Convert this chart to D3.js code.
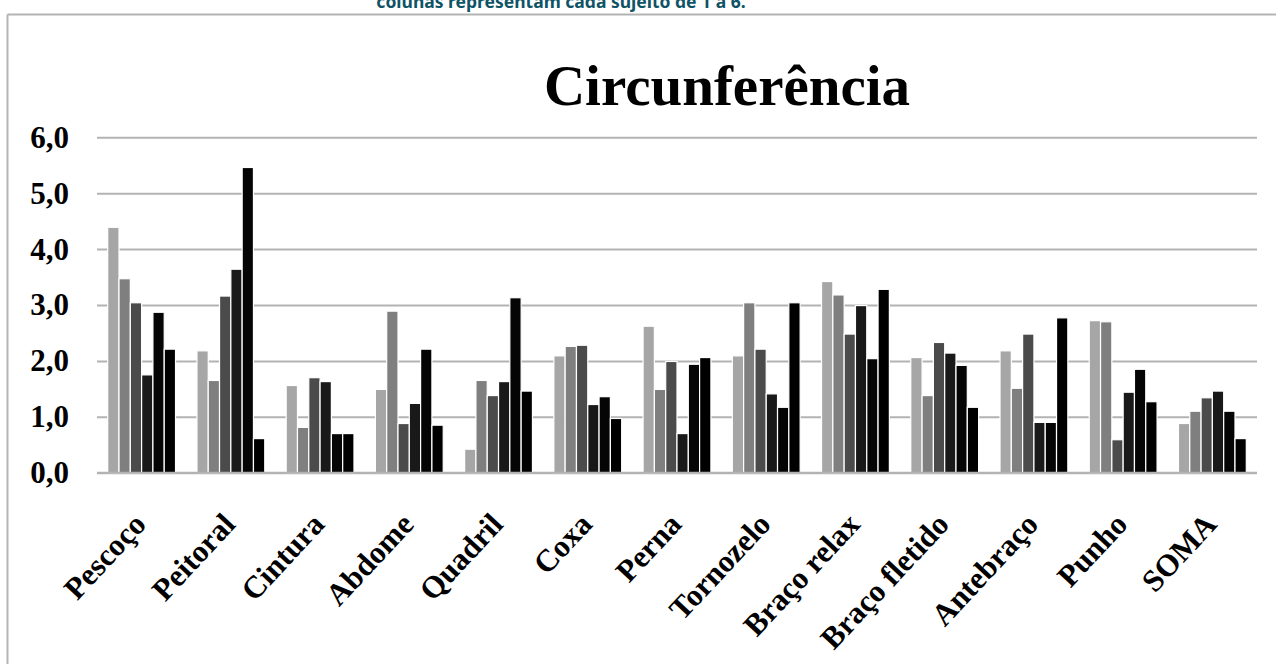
<!DOCTYPE html>
<html>
<head>
<meta charset="utf-8">
<script src="https://cdn.jsdelivr.net/npm/d3@7"></script>
<style>
  body { margin: 0; background: #fff; }
  svg { display: block; }
</style>
</head>
<body>
<svg id="chart" width="1276" height="664"></svg>
<script>
// values (one value per sujeito 1..6)
var categories = ["Pescoço", "Peitoral", "Cintura", "Abdome", "Quadril", "Coxa", "Perna",
                  "Tornozelo", "Braço relax", "Braço fletido", "Antebraço", "Punho", "SOMA"];
var subjects = ["1", "2", "3", "4", "5", "6"];
var sujeito1 = [4.39, 2.18, 1.56, 1.49, 0.42, 2.09, 2.62, 2.09, 3.42, 2.06, 2.18, 2.72, 0.88];
var sujeito2 = [3.47, 1.65, 0.81, 2.89, 1.65, 2.26, 1.49, 3.04, 3.18, 1.38, 1.51, 2.70, 1.10];
var sujeito3 = [3.04, 3.16, 1.70, 0.88, 1.38, 2.28, 1.99, 2.21, 2.48, 2.33, 2.48, 0.59, 1.34];
var sujeito4 = [1.75, 3.64, 1.63, 1.24, 1.63, 1.22, 0.70, 1.41, 2.99, 2.14, 0.90, 1.44, 1.46];
var sujeito5 = [2.87, 5.46, 0.70, 2.21, 3.13, 1.36, 1.94, 1.17, 2.04, 1.92, 0.90, 1.85, 1.10];
var sujeito6 = [2.21, 0.61, 0.70, 0.85, 1.46, 0.97, 2.06, 3.04, 3.28, 1.17, 2.77, 1.27, 0.61];
var yTicks = [0, 1, 2, 3, 4, 5, 6];
var barColors = ["#a6a6a6", "#7f7f7f", "#4b4b4b", "#191919", "#050505", "#000000"];

var series = [sujeito1, sujeito2, sujeito3, sujeito4, sujeito5, sujeito6];

var svg = d3.select("#chart");
var plot = { left: 97, right: 1257, top: 137.3, bottom: 472.7 };

var x = d3.scaleBand()
    .domain(categories)
    .range([plot.left, plot.right])
    .paddingInner(0.24)
    .paddingOuter(0.12);

var xSub = d3.scaleBand()
    .domain(subjects)
    .range([0, x.bandwidth()]);

var y = d3.scaleLinear()
    .domain([0, 6])
    .range([plot.bottom, plot.top]);

//
//  frame of the chart area (only left and top edges fall inside the picture)
//
svg.append("line")
   .attr("x1", 7.5).attr("x2", 1276)
   .attr("y1", 14.5).attr("y2", 14.5)
   .attr("stroke", "#b4b4b4").attr("stroke-width", 2);
svg.append("line")
   .attr("x1", 7.5).attr("x2", 7.5)
   .attr("y1", 14.5).attr("y2", 664)
   .attr("stroke", "#b4b4b4").attr("stroke-width", 2);

// caption line of the page, cut by the top edge
svg.append("text")
   .attr("x", 561)
   .attr("y", 8)
   .attr("text-anchor", "middle")
   .style("font-family", "'Noto Sans', sans-serif")
   .style("font-weight", 700)
   .style("font-size", "17.5px")
   .style("fill", "#0f5366")
   .text("colunas representam cada sujeito de 1 a 6.");

svg.append("text")
   .attr("x", 727)
   .attr("y", 105)
   .attr("text-anchor", "middle")
   .style("font-family", "'Liberation Serif', 'Times New Roman', serif")
   .style("font-weight", 700)
   .style("font-size", "57px")
   .style("fill", "#000")
   .text("Circunferência");

//
//  gridlines + y axis labels
//
var yAxis = d3.axisLeft(y)
    .tickValues(yTicks)
    .tickSize(-(plot.right - plot.left))
    .tickPadding(28)
    .tickFormat(function(d) { return d3.format(".1f")(d).replace(".", ","); });

var gy = svg.append("g")
    .attr("transform", "translate(" + plot.left + ",0)")
    .call(yAxis);
gy.select(".domain").remove();
gy.selectAll(".tick line")
  .attr("stroke", "#b3b3b3")
  .attr("stroke-width", 2);
gy.selectAll(".tick text")
  .attr("fill", "#000")
  .style("font-family", "'Liberation Serif', 'Times New Roman', serif")
  .style("font-weight", 700)
  .style("font-size", "31px");

//
//  bars
//
var groups = svg.append("g")
    .selectAll("g")
    .data(categories)
    .enter()
    .append("g")
    .attr("transform", function(d) { return "translate(" + x(d) + ",0)"; });

groups.selectAll("rect")
    .data(function(d, i) { return series.map(function(s, j) { return { key: subjects[j], value: s[i], idx: j }; }); })
    .enter()
    .append("rect")
    .attr("x", function(d) { return xSub(d.key); })
    .attr("width", xSub.bandwidth())
    .attr("y", function(d) { return y(d.value); })
    .attr("height", function(d) { return y(0) - y(d.value); })
    .attr("fill", function(d) { return barColors[d.idx]; })
    .attr("stroke", "#ffffff")
    .attr("stroke-width", 1.2);

//
//  category labels, rotated
//
var xAxis = d3.axisBottom(x).tickSize(0).tickPadding(0);
var gx = svg.append("g")
    .attr("transform", "translate(0," + plot.bottom + ")")
    .call(xAxis);
gx.select(".domain").remove();
gx.selectAll(".tick text")
  .attr("fill", "#000")
  .attr("text-anchor", "end")
  .attr("dy", 0)
  .attr("transform", "translate(6,53) rotate(-47)")
  .style("font-family", "'Liberation Serif', 'Times New Roman', serif")
  .style("font-weight", 700)
  .style("font-size", "31px");

// baseline drawn over the bars
svg.append("line")
   .attr("x1", plot.left).attr("x2", plot.right)
   .attr("y1", y(0)).attr("y2", y(0))
   .attr("stroke", "#b3b3b3").attr("stroke-width", 2);
</script>
</body>
</html>
